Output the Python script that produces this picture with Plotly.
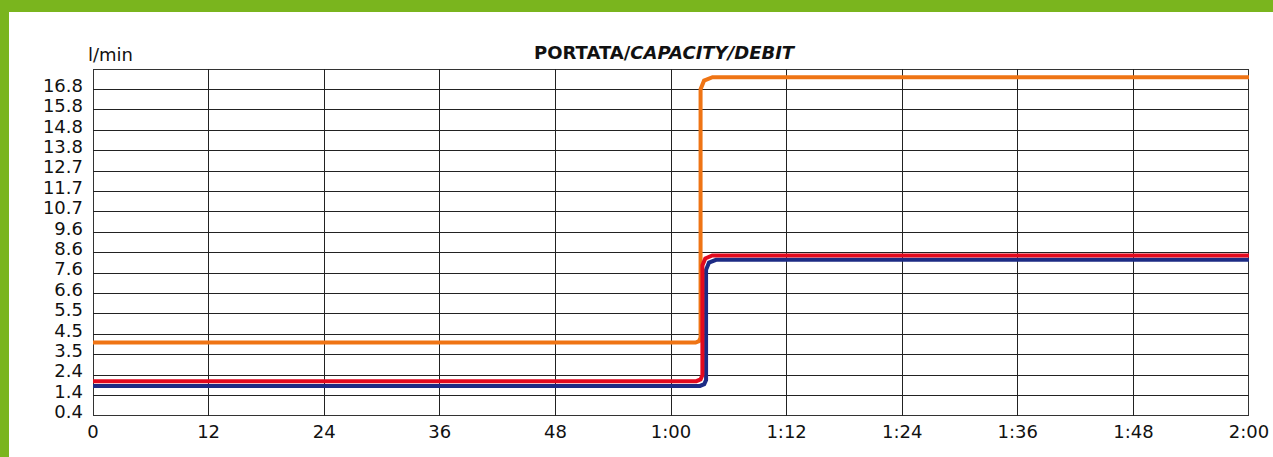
import plotly.graph_objects as go

# ---- data (minutes, l/min) ----
y_tick_vals = [0.4 + k * 1.025 for k in range(17)]
y_tick_text = ["0.4", "1.4", "2.4", "3.5", "4.5", "5.5", "6.6", "7.6", "8.6",
               "9.6", "10.7", "11.7", "12.7", "13.8", "14.8", "15.8", "16.8"]
x_tick_vals = [0, 12, 24, 36, 48, 60, 72, 84, 96, 108, 120]
x_tick_text = ["0", "12", "24", "36", "48", "1:00", "1:12", "1:24", "1:36", "1:48", "2:00"]

orange_t = [0, 62.55, 62.91, 63.07, 63.07, 63.43, 64.31, 120]
orange_v = [4.09, 4.09, 4.16, 4.34, 16.81, 17.24, 17.41, 17.41]

red_t = [0, 62.63, 63.07, 63.26, 63.26, 63.56, 64.29, 120]
red_v = [2.15, 2.15, 2.24, 2.45, 7.96, 8.31, 8.46, 8.46]

blue_t = [0, 63.01, 63.45, 63.64, 63.64, 63.94, 64.68, 120]
blue_v = [1.91, 1.91, 2.00, 2.21, 7.74, 8.10, 8.24, 8.24]

FONT = "DejaVu Sans"
W, H = 1273, 457
L, R, T, B = 93, 24, 69, 41
pw, ph = W - L - R, H - T - B

fig = go.Figure()
fig.add_trace(go.Scatter(x=orange_t, y=orange_v, mode="lines",
                         line=dict(color="#EF7414", width=4), hoverinfo="skip"))
fig.add_trace(go.Scatter(x=blue_t, y=blue_v, mode="lines",
                         line=dict(color="#1D2B84", width=4), hoverinfo="skip"))
fig.add_trace(go.Scatter(x=red_t, y=red_v, mode="lines",
                         line=dict(color="#E30A1E", width=4), hoverinfo="skip"))

top_val = 0.4 + 17 * 1.025

def px_x(p):
    return (p - L) / pw

def px_y(p):
    return (H - B - p) / ph

shapes = [
    dict(type="rect", xref="paper", yref="paper",
         x0=px_x(0), x1=px_x(W), y0=px_y(12), y1=px_y(0),
         fillcolor="#7AB51E", line=dict(width=0), layer="above"),
    dict(type="rect", xref="paper", yref="paper",
         x0=px_x(0), x1=px_x(9), y0=px_y(H), y1=px_y(0),
         fillcolor="#7AB51E", line=dict(width=0), layer="above"),
    dict(type="rect", xref="x", yref="y", x0=0, x1=120, y0=0.4, y1=top_val,
         line=dict(color="#333333", width=2), layer="below"),
]

fig.update_layout(
    width=W, height=H,
    margin=dict(l=L, r=R, t=T, b=B, autoexpand=False),
    paper_bgcolor="white", plot_bgcolor="white",
    showlegend=False,
    font=dict(family=FONT, color="#111111", size=18),
    shapes=shapes,
    xaxis=dict(range=[0, 120], tickvals=x_tick_vals, ticktext=x_tick_text,
               showgrid=True, gridcolor="#222222", gridwidth=1.3,
               zeroline=False, showline=False, ticks="", ticklen=0,
               automargin=False, ticklabelstandoff=3,
               tickfont=dict(family=FONT, size=18, color="#111111")),
    yaxis=dict(range=[0.4, top_val], tickvals=y_tick_vals, ticktext=y_tick_text,
               showgrid=True, gridcolor="#222222", gridwidth=1.3,
               zeroline=False, showline=False, ticks="", ticklen=0,
               automargin=False, ticklabelshift=-4, ticklabelstandoff=9,
               tickfont=dict(family=FONT, size=18, color="#111111")),
    annotations=[
        dict(text="<b>PORTATA/<i>CAPACITY/DEBIT</i></b>", xref="paper", yref="paper",
             x=px_x(665), y=px_y(52), xanchor="center", yanchor="middle",
             showarrow=False, font=dict(family=FONT, size=18, color="#111111")),
        dict(text="l/min", xref="paper", yref="paper",
             x=px_x(86), y=px_y(55), xanchor="left", yanchor="middle",
             showarrow=False, font=dict(family=FONT, size=18, color="#111111")),
    ],
)

fig.write_html("out.html", config={"displayModeBar": False},
               post_script="document.body.style.margin='0';document.body.style.overflow='hidden';")
